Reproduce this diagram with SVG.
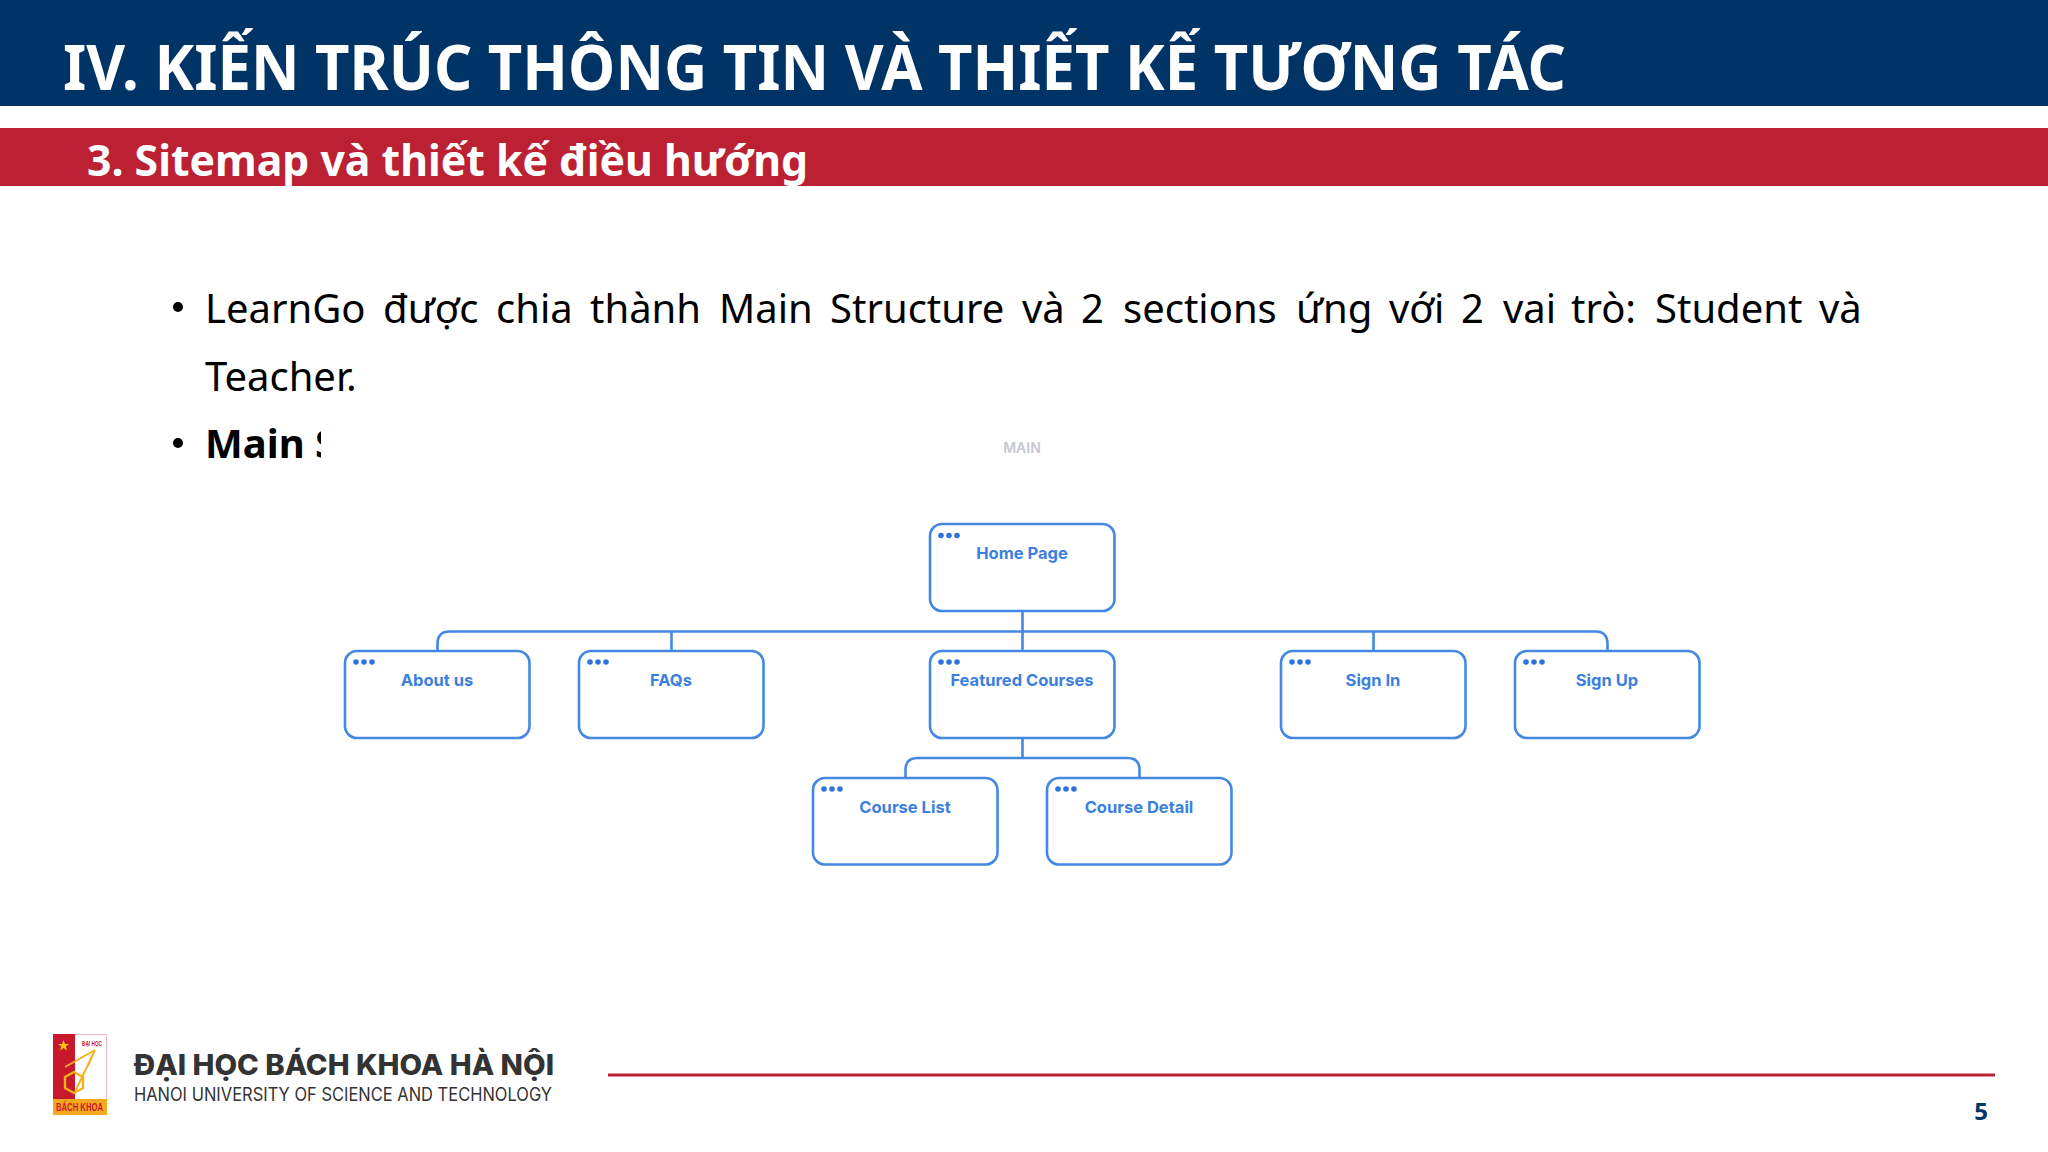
<svg xmlns="http://www.w3.org/2000/svg" width="2048" height="1152" viewBox="0 0 2048 1152">
<style>
.box{fill:#fff;stroke:#4488e2;stroke-width:2.6}
.dot{fill:#2f74dc}
.lbl{font-family:Inter,"Noto Sans",sans-serif;font-weight:700;font-size:16.500px;fill:#3b80e0;text-anchor:middle}
.body{font-family:"Noto Sans",sans-serif;font-size:40px;fill:#000}
.con{fill:none;stroke:#4488e2;stroke-width:2.6}
</style>
<defs>
<g id="dots"><circle cx="0" cy="0" r="2.800" class="dot"/><circle cx="8" cy="0" r="2.800" class="dot"/><circle cx="16" cy="0" r="2.800" class="dot"/></g>
</defs>
<rect width="2048" height="1152" fill="#fff"/>
<rect x="0" y="0" width="2048" height="106" fill="#003366"/>
<rect x="0" y="128" width="2048" height="58" fill="#bc2033"/>
<text x="63" y="90" font-family="Noto Sans,sans-serif" font-weight="700" font-size="62" fill="#fff" textLength="1503" lengthAdjust="spacingAndGlyphs">IV. KIẾN TRÚC THÔNG TIN VÀ THIẾT KẾ TƯƠNG TÁC</text>
<text x="87" y="176" font-family="Noto Sans,sans-serif" font-weight="700" font-size="43" fill="#fff" textLength="721" lengthAdjust="spacingAndGlyphs">3. Sitemap và thiết kế điều hướng</text>
<g id="bullets">
<circle cx="178" cy="307" r="5" fill="#000"/>
<circle cx="178" cy="443" r="5" fill="#000"/>
<text class="body" y="323"><tspan x="205">LearnGo</tspan><tspan x="383">được</tspan><tspan x="496">chia</tspan><tspan x="590">thành</tspan><tspan x="719">Main</tspan><tspan x="830">Structure</tspan><tspan x="1022">và</tspan><tspan x="1081">2</tspan><tspan x="1123">sections</tspan><tspan x="1296">ứng</tspan><tspan x="1389">với</tspan><tspan x="1461">2</tspan><tspan x="1503">vai</tspan><tspan x="1571">trò:</tspan><tspan x="1655">Student</tspan><tspan x="1819">và</tspan></text>
<text class="body" x="205" y="391">Teacher.</text>
<clipPath id="mainclip"><rect x="200" y="410" width="121" height="60"/></clipPath>
<text class="body" x="205" y="458" font-weight="700" clip-path="url(#mainclip)">Main Structure</text>
</g>
<text id="main-label" x="1022" y="453" font-family="Inter,Noto Sans,sans-serif" font-size="14" font-weight="600" fill="#c4c8d2" text-anchor="middle">MAIN</text>
<g id="connectors">
<path class="con" d="M1022.500 611V651"/>
<path class="con" d="M437.500 651V644Q437.500 631.500 449.500 631.500H1595.500Q1607.500 631.500 1607.500 644V651"/>
<path class="con" d="M671.500 632V651"/>
<path class="con" d="M1373.500 632V651"/>
<path class="con" d="M1022.500 738V758"/>
<path class="con" d="M905.500 778V770Q905.500 758 917.500 758H1127.500Q1139.500 758 1139.500 770V778"/>
</g>
<g id="home"><rect class="box" x="930" y="524" width="184.500" height="87" rx="12"/><use href="#dots" x="941" y="535.500"/><text class="lbl" x="1022" y="559">Home Page</text></g>
<g id="about"><rect class="box" x="345" y="651" width="184.500" height="87" rx="12"/><use href="#dots" x="356" y="662"/><text class="lbl" x="437" y="686">About us</text></g>
<g id="faqs"><rect class="box" x="579" y="651" width="184.500" height="87" rx="12"/><use href="#dots" x="590" y="662"/><text class="lbl" x="671" y="686">FAQs</text></g>
<g id="featured"><rect class="box" x="930" y="651" width="184.500" height="87" rx="12"/><use href="#dots" x="941" y="662"/><text class="lbl" x="1022" y="686">Featured Courses</text></g>
<g id="signin"><rect class="box" x="1281" y="651" width="184.500" height="87" rx="12"/><use href="#dots" x="1292" y="662"/><text class="lbl" x="1373" y="686">Sign In</text></g>
<g id="signup"><rect class="box" x="1515" y="651" width="184.500" height="87" rx="12"/><use href="#dots" x="1526" y="662"/><text class="lbl" x="1607" y="686">Sign Up</text></g>
<g id="courselist"><rect class="box" x="813" y="778" width="184.500" height="86.500" rx="12"/><use href="#dots" x="824" y="789"/><text class="lbl" x="905" y="813">Course List</text></g>
<g id="coursedetail"><rect class="box" x="1047" y="778" width="184.500" height="86.500" rx="12"/><use href="#dots" x="1058" y="789"/><text class="lbl" x="1139" y="813">Course Detail</text></g>
<g id="logo">
<rect x="53.500" y="1034.500" width="53" height="80" fill="#fff" stroke="#e7b9b9" stroke-width="1"/>
<rect x="53" y="1034" width="22" height="66" fill="#c8192c"/>
<rect x="53" y="1099" width="54" height="16" fill="#f4a81d"/>
<polygon points="63.500,1040 65,1044 69,1044 65.800,1046.500 67,1050.500 63.500,1048 60,1050.500 61.200,1046.500 58,1044 62,1044" fill="#f5c518"/>
<path d="M95 1050L65 1067M95 1050L75 1092M95 1050L88 1066" stroke="#f2b01e" stroke-width="1.800" fill="none"/>
<polygon points="74,1072 83,1077 83,1088 74,1093 65,1088 65,1077" fill="none" stroke="#f2b01e" stroke-width="2.400"/>
<text x="92" y="1046" font-family="Liberation Sans,sans-serif" font-weight="700" font-size="7.500" fill="#c8192c" text-anchor="middle" textLength="20" lengthAdjust="spacingAndGlyphs">ĐẠI HỌC</text>
<text x="56" y="1111" font-family="Liberation Sans,sans-serif" font-weight="700" font-size="10" fill="#c8192c" textLength="47" lengthAdjust="spacingAndGlyphs">BÁCH KHOA</text>
</g>
<text x="134" y="1075" font-family="Inter,Liberation Sans,sans-serif" font-weight="800" font-size="28" fill="#333" textLength="420" lengthAdjust="spacingAndGlyphs">ĐẠI HỌC BÁCH KHOA HÀ NỘI</text>
<text x="134" y="1101" font-family="Inter,Liberation Sans,sans-serif" font-size="18.500" fill="#333" textLength="418" lengthAdjust="spacingAndGlyphs">HANOI UNIVERSITY OF SCIENCE AND TECHNOLOGY</text>
<rect x="608" y="1073.500" width="1387" height="3" fill="#bc2033"/>
<text x="1981" y="1120" font-family="Noto Sans,sans-serif" font-weight="700" font-size="24" fill="#003366" text-anchor="middle">5</text>
</svg>
